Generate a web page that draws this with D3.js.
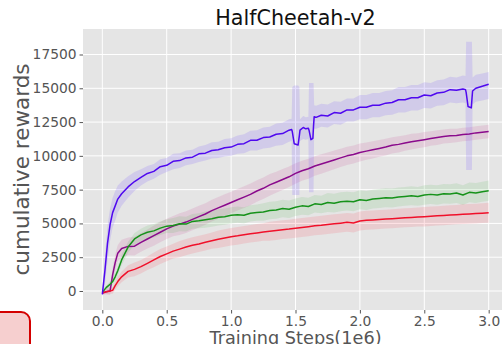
<!DOCTYPE html>
<html>
<head>
<meta charset="utf-8">
<script src="https://cdn.jsdelivr.net/npm/d3@7"></script>
<style>
  body { margin: 0; background: #fff; }
  svg { display: block; font-family: "DejaVu Sans", sans-serif; }
</style>
</head>
<body>
<div id="chart"></div>
<script>
// training steps (1e6) shared by red / green / purple runs
const steps = [0, 0.03, 0.06, 0.08, 0.1, 0.12, 0.15, 0.2, 0.25, 0.3, 0.35, 0.4, 0.45, 0.5,
  0.55, 0.6, 0.65, 0.7, 0.75, 0.8, 0.85, 0.9, 0.95, 1.0, 1.05, 1.1, 1.15, 1.2, 1.25, 1.3,
  1.35, 1.4, 1.45, 1.5, 1.55, 1.6, 1.65, 1.7, 1.75, 1.8, 1.85, 1.9, 1.95, 2.0, 2.05, 2.1,
  2.15, 2.2, 2.25, 2.3, 2.35, 2.4, 2.45, 2.5, 2.55, 2.6, 2.65, 2.7, 2.75, 2.8, 2.85, 2.9,
  2.95, 3.0];

const redMean = [-150, -50, 0, 50, 400, 700, 1050, 1450, 1600, 1800, 2050, 2300, 2550, 2750,
  2950, 3100, 3250, 3380, 3480, 3600, 3720, 3830, 3920, 4020, 4080, 4160, 4230, 4300, 4360, 4420,
  4480, 4540, 4580, 4640, 4700, 4760, 4820, 4860, 4920, 4970, 5020, 5080, 5030, 5180, 5230, 5260,
  5290, 5320, 5350, 5380, 5420, 5440, 5470, 5500, 5530, 5560, 5590, 5620, 5650, 5680, 5700, 5730,
  5760, 5790];
const redSpread = [100, 150, 200, 250, 300, 350, 400, 450, 500, 500, 500, 550, 550, 550,
  550, 600, 600, 600, 600, 600, 600, 650, 650, 650, 650, 650, 650, 650, 650, 700,
  700, 700, 700, 700, 700, 700, 700, 700, 700, 700, 700, 700, 700, 700, 700, 700,
  700, 700, 700, 700, 700, 700, 700, 720, 720, 720, 720, 720, 720, 730, 730, 730,
  730, 740];

const greenMean = [-100, 250, 500, 700, 1050, 1500, 2300, 3250, 3850, 4150, 4350, 4450, 4650, 4800,
  4850, 4980, 4950, 5150, 5200, 5280, 5350, 5450, 5500, 5600, 5650, 5600, 5750, 5800, 5850, 5950,
  6000, 6100, 6050, 6200, 6300, 6250, 6450, 6400, 6550, 6500, 6600, 6650, 6600, 6750, 6700, 6800,
  6850, 6900, 6880, 6950, 7000, 7050, 7000, 7100, 7150, 7100, 7200, 7180, 7250, 7100, 7300, 7250,
  7350, 7420];
const greenSpread = [100, 150, 200, 250, 300, 350, 400, 400, 450, 450, 500, 500, 500, 500,
  550, 550, 550, 550, 550, 600, 600, 600, 600, 600, 600, 600, 600, 600, 650, 650,
  650, 650, 650, 650, 650, 650, 650, 650, 700, 700, 700, 700, 700, 700, 700, 700,
  700, 700, 700, 700, 700, 700, 700, 720, 720, 720, 720, 720, 730, 730, 730, 740,
  740, 750];

const purpleMean = [-150, -50, 0, 1200, 2100, 2800, 3150, 3300, 3320, 3600, 3850, 4100, 4350, 4600,
  4800, 4950, 5100, 5300, 5500, 5700, 5950, 6150, 6350, 6550, 6750, 6950, 7150, 7400, 7600, 7850,
  8050, 8250, 8450, 8700, 8900, 9050, 9250, 9400, 9550, 9700, 9850, 10000, 10100, 10250, 10350, 10450,
  10550, 10650, 10780, 10850, 10950, 11050, 11120, 11200, 11280, 11350, 11430, 11480, 11500, 11580, 11620, 11700,
  11750, 11800];
const purpleSpread = [100, 200, 300, 500, 600, 600, 650, 650, 700, 700, 700, 750, 750, 750,
  750, 800, 800, 800, 800, 800, 800, 800, 800, 800, 800, 800, 800, 800, 800, 800,
  780, 780, 760, 760, 740, 740, 720, 720, 700, 700, 680, 680, 660, 660, 640, 640,
  620, 620, 600, 600, 580, 580, 560, 560, 540, 540, 520, 520, 500, 500, 500, 500,
  500, 500];

// blue run has its own steps (the three collapses are sampled finer)
const blueSteps = [0, 0.02, 0.04, 0.06, 0.08, 0.1, 0.12, 0.15, 0.2, 0.25, 0.3, 0.35, 0.4, 0.45,
  0.5, 0.55, 0.6, 0.65, 0.7, 0.75, 0.8, 0.85, 0.9, 0.95, 1.0, 1.05, 1.1, 1.15, 1.2, 1.25,
  1.3, 1.35, 1.4, 1.45, 1.47, 1.475, 1.49, 1.52, 1.53, 1.535, 1.56, 1.58, 1.6, 1.605, 1.62, 1.635,
  1.64, 1.645, 1.66, 1.7, 1.75, 1.8, 1.85, 1.9, 1.95, 2.0, 2.05, 2.1, 2.15, 2.2, 2.25, 2.3,
  2.35, 2.4, 2.45, 2.5, 2.55, 2.6, 2.65, 2.7, 2.75, 2.8, 2.82, 2.825, 2.84, 2.865, 2.87, 2.875,
  2.9, 2.95, 3.0];
const blueMean = [-250, 1500, 3500, 4900, 5800, 6300, 6800, 7200, 7700, 8100, 8400, 8700, 8850, 9200,
  9300, 9600, 9650, 9850, 9900, 10150, 10200, 10400, 10450, 10600, 10650, 10850, 10900, 11150, 11150, 11350,
  11400, 11600, 11650, 11900, 11950, 11800, 10900, 10800, 11500, 11900, 12100, 12000, 12050, 11900, 11200, 11300,
  12200, 12900, 12850, 13000, 12950, 13200, 13150, 13400, 13400, 13600, 13600, 13750, 13750, 13900, 13950, 14150,
  14150, 14300, 14300, 14500, 14450, 14650, 14700, 14900, 14850, 14950, 14900, 14700, 13650, 13550, 14200, 14800,
  15000, 15150, 15300];
const blueLow = [-400, 500, 2200, 3700, 4700, 5200, 5800, 6300, 6900, 7400, 7800, 8100, 8300, 8600,
  8800, 9000, 9100, 9300, 9400, 9550, 9650, 9800, 9850, 9950, 10000, 10150, 10200, 10400, 10400, 10550,
  10600, 10750, 10800, 11050, 11100, 7100, 7100, 7100, 7100, 11100, 11250, 11200, 11250, 7300, 7300, 7300,
  7300, 12000, 12000, 12150, 12100, 12350, 12300, 12550, 12550, 12700, 12700, 12850, 12850, 13000, 13050, 13200,
  13200, 13350, 13350, 13550, 13500, 13700, 13750, 13950, 13900, 13950, 13900, 8950, 8950, 8950, 8950, 13800,
  14000, 14100, 14200];
const blueHigh = [-100, 2500, 4800, 6100, 6900, 7400, 7800, 8100, 8500, 8800, 9000, 9250, 9400, 9750,
  9850, 10150, 10200, 10400, 10450, 10700, 10800, 11000, 11050, 11250, 11300, 11500, 11600, 11850, 11900, 12100,
  12150, 12400, 12450, 12700, 12750, 15100, 15200, 15200, 15100, 12700, 12950, 12850, 12900, 15400, 15400, 15400,
  15400, 13750, 13700, 13850, 13800, 14050, 14000, 14250, 14250, 14500, 14500, 14650, 14650, 14800, 14850, 15100,
  15100, 15250, 15250, 15450, 15400, 15600, 15650, 15850, 15800, 15950, 15900, 18440, 18440, 18440, 18440, 15800,
  16000, 16100, 16200];

const xTicks = [0, 0.5, 1.0, 1.5, 2.0, 2.5, 3.0];
const yTicks = [0, 2500, 5000, 7500, 10000, 12500, 15000, 17500];

const width = 502;
const height = 344;
const plot = { left: 83, right: 508, top: 29, bottom: 310 };

const svg = d3.select("#chart").append("svg")
  .attr("width", width)
  .attr("height", height);

const x = d3.scaleLinear().domain([-0.15, 3.15]).range([plot.left, plot.right]);
const y = d3.scaleLinear().domain([-1406, 19387]).range([plot.bottom, plot.top]);

// 背景
svg.append("rect")
  .attr("x", plot.left).attr("y", plot.top)
  .attr("width", plot.right - plot.left).attr("height", plot.bottom - plot.top)
  .attr("fill", "#e5e5e5");

// grid
svg.append("g").selectAll("line").data(xTicks).enter().append("line")
  .attr("x1", d => x(d)).attr("x2", d => x(d))
  .attr("y1", plot.top).attr("y2", plot.bottom)
  .attr("stroke", "#fff").attr("stroke-width", 1);
svg.append("g").selectAll("line").data(yTicks).enter().append("line")
  .attr("x1", plot.left).attr("x2", plot.right)
  .attr("y1", d => y(d)).attr("y2", d => y(d))
  .attr("stroke", "#fff").attr("stroke-width", 1);

// axes
const xAxis = svg.append("g")
  .attr("transform", `translate(0,${plot.bottom})`)
  .call(d3.axisBottom(x).tickValues(xTicks).tickFormat(d3.format(".1f")).tickSize(3.5).tickPadding(3));
const yAxis = svg.append("g")
  .attr("transform", `translate(${plot.left},0)`)
  .call(d3.axisLeft(y).tickValues(yTicks).tickFormat(d => d).tickSize(3.5).tickPadding(3));
[xAxis, yAxis].forEach(a => {
  a.select(".domain").remove();
  a.selectAll(".tick line").attr("stroke", "#555");
  a.selectAll(".tick text").attr("fill", "#555").style("font-size", "13.8px")
    .style("font-family", "DejaVu Sans");
});

const clip = svg.append("clipPath").attr("id", "plotclip").append("rect")
  .attr("x", plot.left).attr("y", plot.top)
  .attr("width", plot.right - plot.left).attr("height", plot.bottom - plot.top);

const g = svg.append("g").attr("clip-path", "url(#plotclip)");

const series = [
  { xs: steps, mean: purpleMean, lo: purpleMean.map((v, i) => v - purpleSpread[i]), hi: purpleMean.map((v, i) => v + purpleSpread[i]), color: "#8a0a8c", band: "rgba(200,60,140,0.14)" },
  { xs: steps, mean: greenMean, lo: greenMean.map((v, i) => v - greenSpread[i]), hi: greenMean.map((v, i) => v + greenSpread[i]), color: "#16921a", band: "rgba(60,180,60,0.13)" },
  { xs: steps, mean: redMean, lo: redMean.map((v, i) => v - redSpread[i]), hi: redMean.map((v, i) => v + redSpread[i]), color: "#f0102a", band: "rgba(255,60,80,0.14)" },
  { xs: blueSteps, mean: blueMean, lo: blueLow, hi: blueHigh, color: "#4f08ef", band: "rgba(110,80,255,0.17)" }
];

// 陰影區
series.forEach(s => {
  const pts = s.xs.map((t, i) => ({ t, lo: s.lo[i], hi: s.hi[i] }));
  g.append("path")
    .datum(pts)
    .attr("fill", s.band)
    .attr("d", d3.area().x(d => x(d.t)).y0(d => y(d.lo)).y1(d => y(d.hi)));
});

// 平均線
series.forEach(s => {
  const pts = s.xs.map((t, i) => ({ t, v: s.mean[i] }));
  g.append("path")
    .datum(pts)
    .attr("fill", "none")
    .attr("stroke", s.color)
    .attr("stroke-width", 1.5)
    .attr("stroke-linejoin", "round")
    .attr("d", d3.line().x(d => x(d.t)).y(d => y(d.v)));
});

// title / labels
svg.append("text")
  .attr("x", (plot.left + plot.right) / 2).attr("y", 25)
  .attr("text-anchor", "middle")
  .style("font-size", "20.7px").attr("fill", "#111")
  .text("HalfCheetah-v2");

svg.append("text")
  .attr("transform", `translate(29,${(plot.top + plot.bottom) / 2}) rotate(-90)`)
  .attr("text-anchor", "middle")
  .style("font-size", "21.5px").attr("fill", "#555")
  .text("cumulative rewards");

svg.append("text")
  .attr("x", (plot.left + plot.right) / 2).attr("y", 344)
  .attr("text-anchor", "middle")
  .style("font-size", "17.7px").attr("fill", "#555")
  .text("Training Steps(1e6)");

// 左下角紅框
svg.append("rect")
  .attr("x", -20).attr("y", 312)
  .attr("width", 50).attr("height", 50)
  .attr("rx", 9)
  .attr("fill", "#f6cfcf")
  .attr("stroke", "#d40000")
  .attr("stroke-width", 2);
</script>
</body>
</html>
